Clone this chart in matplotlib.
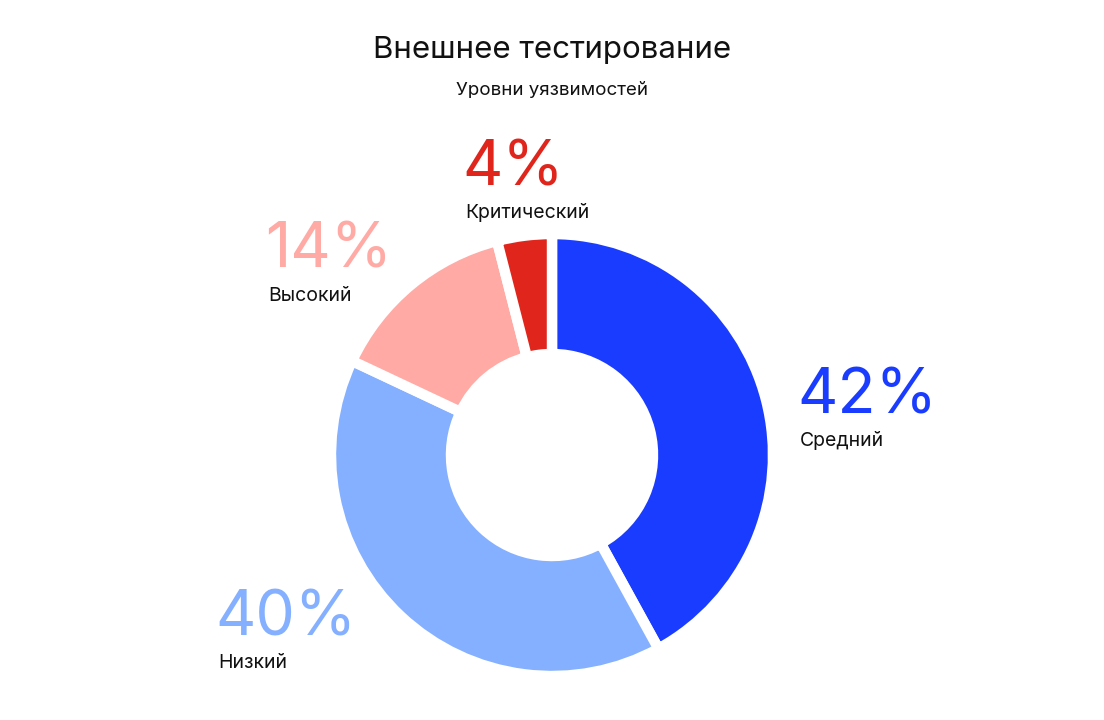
import matplotlib.pyplot as plt

plt.rcParams['font.family'] = ['Inter', 'DejaVu Sans']

W, H = 1104, 720

labels = ["Средний", "Низкий", "Высокий", "Критический"]
values = [42, 40, 14, 4]
colors = ["#1a3cff", "#85b0ff", "#ffaaa5", "#e0261c"]
# left x / baseline y (pixels from top) of each percentage text
label_pos = [(800, 413), (218, 635), (268, 268), (465, 185)]

fig = plt.figure(figsize=(W / 100, H / 100), dpi=100)
ax = fig.add_axes([0, 0, 1, 1])
ax.set_xlim(0, W)
ax.set_ylim(0, H)
ax.set_aspect("equal")
ax.axis("off")

# donut
ax.pie(values, colors=colors, startangle=90, counterclock=False,
       center=(552, H - 455), radius=221,
       wedgeprops=dict(width=120, edgecolor="white", linewidth=7.5))
ax.set_xlim(0, W)
ax.set_ylim(0, H)

ax.text(552, H - 58, "Внешнее тестирование", ha="center", va="baseline",
        fontsize=22.5, color="#111111")
ax.text(552, H - 95, "Уровни уязвимостей", ha="center", va="baseline",
        fontsize=13.5, color="#111111")

for lab, v, c, (x, y) in zip(labels, values, colors, label_pos):
    ax.text(x - 3, H - y, f"{v}%", ha="left", va="baseline", fontsize=45, color=c)
    ax.text(x, H - y - 33, lab, ha="left", va="baseline", fontsize=14, color="#111111")

fig.savefig("out.png", dpi=100)
